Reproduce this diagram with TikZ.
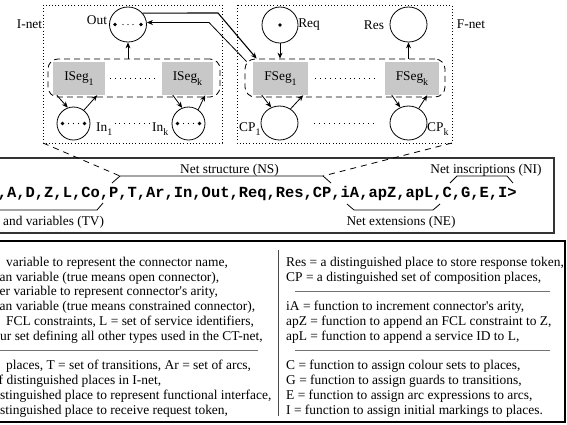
\documentclass[tikz,border=0pt]{standalone}
\usepackage{fontspec}
\setmainfont{Liberation Serif}
\newfontfamily\codefont{Liberation Mono}
\usetikzlibrary{arrows.meta,shapes.geometric}
\definecolor{segfill}{HTML}{C8C8C8}
% lowered subscript used in the place and segment names
\newcommand\segsub[1]{\raisebox{-4.5bp}{\fontsize{10}{10}\selectfont #1}}

\begin{document}
\begin{tikzpicture}[x=1bp,y=-1bp,
  lbl/.style={inner sep=0pt, font=\fontsize{13.4}{15}\selectfont},
  pl/.style={draw, ellipse, inner sep=0pt, line width=0.8bp},
  segbox/.style={fill=segfill, inner sep=0pt, minimum height=33bp, font=\fontsize{13.4}{15}\selectfont},
  netframe/.style={draw, line width=0.9bp, dash pattern=on 0.9bp off 2.3bp},
  grp/.style={draw, line width=0.8bp, dash pattern=on 6bp off 4bp, rounded corners=10bp, inner sep=0pt},
  arr/.style={-{Stealth[length=6bp,width=5bp]}, line width=0.8bp},
  sepdots/.style={line width=0.9bp, dash pattern=on 0.9bp off 4bp},
  brace/.style={line width=0.8bp},
  link/.style={line width=0.8bp, dash pattern=on 6bp off 5bp},
  ltxt/.style={inner sep=0pt, anchor=base west, font=\fontsize{13.5}{15}\selectfont},
  rtxt/.style={inner sep=0pt, anchor=base west, font=\fontsize{13.5}{15}\selectfont},
  hsep/.style={line width=0.8bp, black!55},
]
\useasboundingbox (0,0) rectangle (567,424);

% ---------- I-net and F-net frames ----------
\draw[netframe] (43,5) rectangle (222,143);
\draw[netframe] (237,5) rectangle (452,143);
\coordinate (iSW) at (43,143);
\coordinate (fSE) at (452,143);
\node[lbl] (inetlbl) at (29.5,24) {I-net};
\node[lbl] (fnetlbl) at (471,24) {F-net};

% ---------- segment groups ----------
\node[grp, minimum width=172bp, minimum height=38bp] (ibox) at (134,78) {};
\node[grp, minimum width=200bp, minimum height=38bp] (fbox) at (345,78) {};
\node[segbox, minimum width=52bp] (iseg1) at (79,78.5) {ISeg\segsub{1}};
\node[segbox, minimum width=51bp] (isegk) at (187.5,78.5) {ISeg\segsub{k}};
\node[segbox, minimum width=55bp] (fseg1) at (280.5,78.5) {FSeg\segsub{1}};
\node[segbox, minimum width=54bp] (fsegk) at (412,78.5) {FSeg\segsub{k}};
\draw[sepdots, shorten <=5bp, shorten >=4bp] (iseg1.east) -- (isegk.west);
\draw[sepdots, shorten <=7bp, shorten >=8bp] (fseg1.east) -- (fsegk.west);

% ---------- places ----------
\node[pl, minimum width=37bp, minimum height=35bp] (out) at (128,24.5) {};
\node[pl, minimum width=36bp, minimum height=36bp] (req) at (280,25) {};
\node[pl, minimum width=37bp, minimum height=35bp] (res) at (408.5,24.5) {};
\node[pl, minimum width=33bp, minimum height=33bp] (in1) at (73.5,123.5) {};
\node[pl, minimum width=33bp, minimum height=33bp] (ink) at (188.5,123.5) {};
\node[pl, minimum width=37bp, minimum height=34bp] (cp1) at (279.5,123) {};
\node[pl, minimum width=37bp, minimum height=34bp] (cpk) at (408.5,123) {};

% tokens
\foreach \p/\d in {out/13, in1/11, ink/11} {
  \fill ([xshift=-\d bp]\p.center) circle (1.8bp);
  \fill ([xshift=\d bp]\p.center) circle (1.8bp);
  \foreach \s in {-5,0,5} \fill ([xshift=\s bp]\p.center) circle (0.6bp);
}
\fill (req.center) circle (1.8bp);

% place labels
\node[lbl] (outlbl) at (97,20) {Out};
\node[lbl] (reqlbl) at (309,25) {Req};
\node[lbl] (reslbl) at (374,25) {Res};
\node[lbl, anchor=base west] (in1lbl) at (96,131) {In\segsub{1}};
\node[lbl, anchor=base west] (inklbl) at (152,131) {In\segsub{k}};
\node[lbl, anchor=base west] (cp1lbl) at (239,131) {CP\segsub{1}};
\node[lbl, anchor=base west] (cpklbl) at (427,131) {CP\segsub{k}};
\draw[sepdots, shorten <=2bp, shorten >=3bp] (in1lbl.east |- in1.center) -- (inklbl.west |- in1.center);
\draw[sepdots, shorten <=16bp, shorten >=12bp] (cp1.east) -- (cpk.west);

% ---------- arcs ----------
\draw[arr] (ibox.north -| out) -- (out.south);
\draw[arr] (req.south) -- (fbox.north -| req);
\draw[arr] (fbox.north -| res) -- (res.south);

\draw[arr] ([xshift=4bp]iseg1.south west) -- (in1.110);
\draw[arr] (in1.52) -- ([xshift=-8bp]iseg1.south east);
\draw[arr] ([xshift=11bp]isegk.south west) -- (ink.112);
\draw[arr] (ink.55) -- ([xshift=-8bp]isegk.south east);
\draw[arr] ([xshift=9bp]fseg1.south west) -- (cp1.118);
\draw[arr] (cp1.52) -- ([xshift=-5bp]fseg1.south east);
\draw[arr] ([xshift=7bp]fsegk.south west) -- (cpk.118);
\draw[arr] (cpk.55) -- ([xshift=-12bp]fsegk.south east);

\draw[arr, line width=1.1bp] (out.38) -- (218,13) -- ([xshift=12bp]fbox.north west);
\draw[arr] ([xshift=2bp,yshift=-3bp]fbox.north west) -- (209,22.5) -- (209,22.5 -| out.east);

% ---------- tuple box ----------
\draw[line width=1.1bp, black!80] (-5,158) rectangle (554,233);
\node[inner sep=0pt, anchor=base west, font=\codefont\bfseries\fontsize{15.5}{16}\selectfont] (formula) at (-2.3,197)
  {,A,D,Z,L,Co,P,T,Ar,In,Out,Req,Res,CP,iA,apZ,apL,C,G,E,I>};

\coordinate (nsL) at (120,176);
\coordinate (nsR) at (323,176);
\draw[brace] (112,183) -- (nsL) -- (nsR) -- (331,183);
\draw[brace] (-5,210) -- (97,210) -- (103,203);
\draw[brace] (347,204) -- (354,210) -- (433,210) -- (440,204);
\draw[brace] (450,183) -- (457,176) -- (507,176) -- (513,183);
\draw[link] (iSW) -- (nsL);
\draw[link] (fSE) -- (nsR);

\node[lbl] (nslbl) at (229.5,170) {Net structure (NS)};
\node[lbl] (nilbl) at (486,170) {Net inscriptions (NI)};
\node[lbl, anchor=west] (tvlbl) at (3,222) {and variables (TV)};
\node[lbl] (nelbl) at (401,222) {Net extensions (NE)};

% ---------- legend box ----------
\draw[line width=1.5bp] (-5,241) rectangle (565,422);
\draw[line width=0.8bp, black!70] (278,250) -- (278,416);

\node[ltxt] (l1) at (2.5,266.3) {\ variable to represent the connector name,};
\node[ltxt] (l2) at (-0.5,281.1) {an variable (true means open connector),};
\node[ltxt] (l3) at (-0.5,295.9) {er variable to represent connector\textquotesingle s arity,};
\node[ltxt] (l4) at (-0.5,310.7) {an variable (true means constrained connector),};
\node[ltxt] (l5) at (6,325.5) {FCL constraints, L = set of service identifiers,};
\node[ltxt] (l6) at (0,340.3) {ur set defining all other types used in the CT-net,};
\draw[hsep] (-5,350.8) -- (258,350.8);
\node[ltxt] (l7) at (6,369.9) {places, T = set of transitions, Ar = set of arcs,};
\node[ltxt] (l8) at (-1.5,384.7) {f distinguished places in I-net,};
\node[ltxt] (l9) at (0,399.5) {stinguished place to represent functional interface,};
\node[ltxt] (l10) at (0,414.3) {stinguished place to receive request token,};

\node[rtxt] (r1) at (286,266.3) {Res = a distinguished place to store response token,};
\node[rtxt] (r2) at (286,281.1) {CP = a distinguished set of composition places,};
\draw[hsep] (295,291.6) -- (550,291.6);
\node[rtxt] (r3) at (286,310.7) {iA = function to increment connector\textquotesingle s arity,};
\node[rtxt] (r4) at (286,325.5) {apZ = function to append an FCL constraint to Z,};
\node[rtxt] (r5) at (286,340.3) {apL = function to append a service ID to L,};
\draw[hsep] (295,350.8) -- (550,350.8);
\node[rtxt] (r6) at (286,369.9) {C = function to assign colour sets to places,};
\node[rtxt] (r7) at (286,384.7) {G = function to assign guards to transitions,};
\node[rtxt] (r8) at (286,399.5) {E = function to assign arc expressions to arcs,};
\node[rtxt] (r9) at (286,414.3) {I = function to assign initial markings to places.};
\end{tikzpicture}
\end{document}
